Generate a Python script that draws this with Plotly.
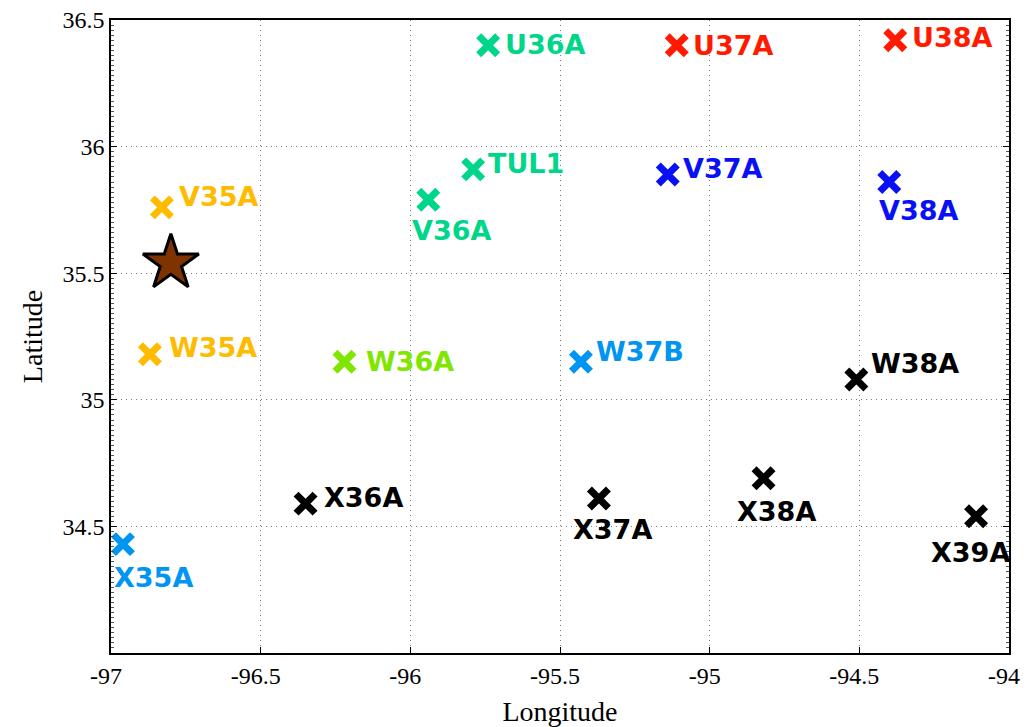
import plotly.graph_objects as go

# station names and positions
stations = ["U36A", "U37A", "U38A", "TUL1", "V35A", "V36A", "V37A", "V38A",
            "W35A", "W36A", "W37B", "W38A", "X35A", "X36A", "X37A", "X38A", "X39A"]
lons = [-95.74, -95.11, -94.38, -95.79, -96.83, -95.94, -95.14, -94.40,
        -96.87, -96.22, -95.43, -94.51, -96.96, -96.35, -95.37, -94.82, -94.11]
lats = [36.40, 36.40, 36.42, 35.91, 35.76, 35.79, 35.89, 35.86,
        35.18, 35.15, 35.15, 35.08, 34.43, 34.59, 34.61, 34.69, 34.54]

# event epicentre (star)
event_lon = [-96.80]
event_lat = [35.54]

x_ticks = [-97, -96.5, -96, -95.5, -95, -94.5, -94]
x_ticktext = ["-97", "-96.5", "-96", "-95.5", "-95", "-94.5", "-94"]
y_ticks = [34.5, 35, 35.5, 36, 36.5]
y_ticktext = ["34.5", "35", "35.5", "36", "36.5"]

COLORS = {
    "U36A": "#00d68a", "TUL1": "#00d68a", "V36A": "#00d68a",
    "U37A": "#ff1a00", "U38A": "#ff1a00",
    "V37A": "#0a10f5", "V38A": "#0a10f5",
    "V35A": "#ffbb00", "W35A": "#ffbb00",
    "W36A": "#80e600",
    "W37B": "#0095f0", "X35A": "#0095f0",
}

# label placement in pixels relative to the marker: (xshift, yshift)
LABEL_POS = {
    "U36A": (15, 1), "U37A": (14, 0), "U38A": (15, 3),
    "TUL1": (13, 6), "V35A": (15, 11), "V36A": (-18, -31),
    "V37A": (13, 6), "V38A": (-12, -28), "W35A": (17, 7),
    "W36A": (20, 0), "W37B": (13, 10), "W38A": (13, 16),
    "X35A": (-11, -33), "X36A": (16, 6), "X37A": (-28, -31),
    "X38A": (-29, -33), "X39A": (-47, -36),
}

fig = go.Figure()

for name, lo, la in zip(stations, lons, lats):
    c = COLORS.get(name, "#000000")
    fig.add_trace(go.Scatter(
        x=[lo], y=[la], mode="markers", name=name, showlegend=False,
        marker=dict(symbol="x-thin", size=19, line=dict(color=c, width=7)),
    ))
    dx, dy = LABEL_POS[name]
    fig.add_annotation(
        x=lo, y=la, text=name, showarrow=False, xanchor="left", yanchor="middle",
        xshift=dx, yshift=dy,
        font=dict(family="DejaVu Sans", size=27, color=c, weight="bold"),
    )

fig.add_trace(go.Scatter(
    x=event_lon, y=event_lat, mode="markers", showlegend=False,
    marker=dict(symbol="star", size=42, color="#7f3300", line=dict(color="black", width=3)),
))

axis_font = dict(family="Liberation Serif", size=24, color="black")
title_font = dict(family="Liberation Serif", size=28, color="black")
fig.update_xaxes(
    range=[-97, -94], tickvals=x_ticks, ticktext=x_ticktext,
    showgrid=True, gridcolor="#777777", griddash="1px,4px", gridwidth=1,
    showline=True, linecolor="black", linewidth=1.5, mirror=True,
    ticks="inside", ticklen=6, tickcolor="black", zeroline=False,
    tickfont=axis_font, automargin=False, ticklabeloverflow="allow",
    ticklabelshift=-5,
    title=dict(text="Longitude", font=title_font, standoff=14),
)
fig.update_yaxes(
    range=[34, 36.5], tickvals=y_ticks, ticktext=y_ticktext,
    showgrid=True, gridcolor="#777777", griddash="1px,4px", gridwidth=1,
    showline=True, linecolor="black", linewidth=1.5, mirror="ticks",
    ticks="inside", ticklen=6, tickcolor="black", zeroline=False,
    minor=dict(ticks="inside", dtick=0.02, ticklen=3, tickcolor="#555555", showgrid=False),
    tickfont=axis_font, automargin=False, ticklabeloverflow="allow",
    title=dict(text="Latitude", font=title_font, standoff=12),
)
# the page body adds an 8px margin, so the figure is a bit smaller than the window
fig.update_layout(
    width=1020, height=719,
    margin=dict(l=103, r=19, t=12, b=74),
    plot_bgcolor="white", paper_bgcolor="white",
)

fig.write_html("out.html")
